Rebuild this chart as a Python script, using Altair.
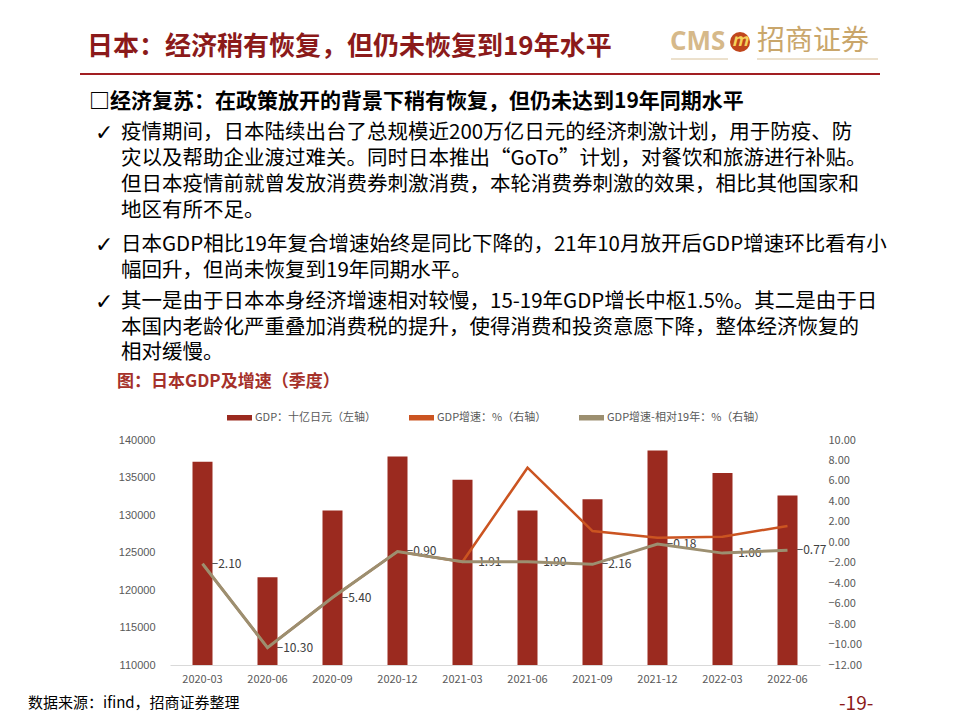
import altair as alt
import pandas as pd

# ---------------- data ----------------
quarters = ["2020-03", "2020-06", "2020-09", "2020-12", "2021-03",
            "2021-06", "2021-09", "2021-12", "2022-03", "2022-06"]
gdp_bn_yen = [137100, 121700, 130600, 137800, 134700,
              130600, 132100, 138600, 135600, 132600]
gdp_growth_pct = [-2.10, -10.30, -5.40, -0.90, -1.91,
                  7.29, 1.10, 0.45, 0.55, 1.59]
gdp_growth_vs19_pct = [-2.10, -10.30, -5.40, -0.90, -1.91,
                       -1.90, -2.16, -0.18, -1.06, -0.77]
series_names = ["GDP：十亿日元（左轴）", "GDP增速：%（右轴）", "GDP增速-相对19年：%（右轴）"]
series_colors = ["#9B2A1F", "#CB5421", "#9C8F70"]
left_ticks = [110000, 115000, 120000, 125000, 130000, 135000, 140000]
right_ticks = [-12, -10, -8, -6, -4, -2, 0, 2, 4, 6, 8, 10]

page_title = "日本：经济稍有恢复，但仍未恢复到19年水平"
section_title = "□经济复苏：在政策放开的背景下稍有恢复，但仍未达到19年同期水平"
bullet_1 = ["疫情期间，日本陆续出台了总规模近200万亿日元的经济刺激计划，用于防疫、防",
            "灾以及帮助企业渡过难关。同时日本推出“GoTo”计划，对餐饮和旅游进行补贴。",
            "但日本疫情前就曾发放消费券刺激消费，本轮消费券刺激的效果，相比其他国家和",
            "地区有所不足。"]
bullet_2 = ["日本GDP相比19年复合增速始终是同比下降的，21年10月放开后GDP增速环比看有小",
            "幅回升，但尚未恢复到19年同期水平。"]
bullet_3 = ["其一是由于日本本身经济增速相对较慢，15-19年GDP增长中枢1.5%。其二是由于日",
            "本国内老龄化严重叠加消费税的提升，使得消费和投资意愿下降，整体经济恢复的",
            "相对缓慢。"]
chart_title = "图：日本GDP及增速（季度）"
source_note = "数据来源：ifind，招商证券整理"
page_number = "-19-"
logo_en = "CMS"
logo_cn = "招商证券"
logo_mark = "m"
check_mark = "✓"

# ---------------- layout ----------------
CJK = "Noto Sans CJK SC"
OX, OY = 170, 440          # plot origin on page
W, H = 650, 225


def px(x):
    return x - OX


def py(y):
    return y - OY


df_bar = pd.DataFrame({"quarter": quarters, "gdp": gdp_bn_yen, "series": series_names[0]})
df_growth = pd.DataFrame({"quarter": quarters, "value": gdp_growth_pct, "series": series_names[1]})
df_vs19 = pd.DataFrame({"quarter": quarters, "value": gdp_growth_vs19_pct, "series": series_names[2]})

color_scale = alt.Scale(domain=series_names, range=series_colors)

x_enc = alt.X("quarter:N", sort=quarters,
              scale=alt.Scale(paddingInner=0, paddingOuter=0),
              axis=alt.Axis(title=None, labelAngle=0, ticks=False, domainColor="#D9D9D9",
                            domainWidth=1, labelColor="#595959", labelFont=CJK,
                            labelFontSize=11, labelPadding=8, grid=False))

bars = alt.Chart(df_bar).mark_bar(size=20, clip=True).encode(
    x=x_enc,
    y=alt.Y("gdp:Q", scale=alt.Scale(domain=[110000, 140000], nice=False, zero=False),
            axis=alt.Axis(title=None, values=left_ticks, format="d", domain=False, ticks=False,
                          grid=False, labelPadding=15, labelColor="#595959",
                          labelFont="Liberation Sans", labelFontSize=11)),
    color=alt.Color("series:N", scale=color_scale,
                    legend=alt.Legend(title=None, orient="none", legendX=57, legendY=-35,
                                      direction="horizontal",
                                      symbolType="M-1,-0.22H1V0.22H-1Z", symbolSize=625,
                                      symbolStrokeWidth=0, labelFont=CJK, labelFontSize=11,
                                      labelColor="#595959", columnPadding=32, labelOffset=3,
                                      padding=0)),
)

y_right = alt.Y("value:Q", scale=alt.Scale(domain=[-12, 10], nice=False, zero=False),
                axis=alt.Axis(title=None, orient="right", values=right_ticks, format=".2f",
                              domain=False, ticks=False, grid=False, labelPadding=8,
                              labelColor="#595959", labelFont=CJK, labelFontSize=11))

labels = alt.Chart(df_vs19).mark_text(align="left", baseline="middle", dx=9, fontSize=12,
                                      font=CJK, color="#404040").encode(
    x=alt.X("quarter:N", sort=quarters), y=y_right,
    text=alt.Text("value:Q", format=".2f"))

line_growth = alt.Chart(df_growth).mark_line(strokeWidth=2.5).encode(
    x=alt.X("quarter:N", sort=quarters), y=y_right,
    color=alt.Color("series:N", scale=color_scale))

line_vs19 = alt.Chart(df_vs19).mark_line(strokeWidth=3).encode(
    x=alt.X("quarter:N", sort=quarters), y=y_right,
    color=alt.Color("series:N", scale=color_scale))

right_layer = alt.layer(labels, line_growth, line_vs19)

one = pd.DataFrame({"k": [0]})


def text_layer(txt, x, y, size, color="#000000", weight="normal", font=CJK,
               align="left", line_height=None, italic=False):
    kw = dict(align=align, baseline="middle", fontSize=size, font=font, color=color,
              fontWeight=weight)
    if line_height:
        kw["lineHeight"] = line_height
    if italic:
        kw["fontStyle"] = "italic"
    return alt.Chart(one).mark_text(**kw).encode(
        x=alt.value(px(x)), y=alt.value(py(y)), text=alt.value(txt))


def rule_layer(x1, x2, y, color, width):
    return alt.Chart(one).mark_rule(color=color, strokeWidth=width).encode(
        x=alt.value(px(x1)), x2=alt.value(px(x2)), y=alt.value(py(y)))


annotations = [
    text_layer(page_title, 87, 47, 26, color="#8B1A1A", weight="bold"),
    rule_layer(80, 880, 74, "#A11E22", 2),
    text_layer(logo_en, 670, 42, 26, color="#D6B98A", weight="bold", font="Open Sans"),
    rule_layer(671, 728, 59, "#D9C29A", 1),
    alt.Chart(one).mark_point(filled=True, shape="circle", size=400, color="#C0461C",
                              opacity=1).encode(x=alt.value(px(740)), y=alt.value(py(42))),
    text_layer(logo_mark, 740, 41, 17, color="#F6D35A", weight="bold", align="center",
               italic=True),
    text_layer(logo_cn, 757, 42, 28, color="#C9A66B"),
    rule_layer(757, 878, 59, "#D9C29A", 1),
    text_layer(section_title, 89, 102, 21, weight="bold"),
    text_layer(check_mark, 95, 133, 22, font="DejaVu Sans"),
    text_layer(bullet_1, 121, 133, 20.5, line_height=26),
    text_layer(check_mark, 95, 245, 22, font="DejaVu Sans"),
    text_layer(bullet_2, 121, 245, 20.5, line_height=25.5),
    text_layer(check_mark, 95, 302, 22, font="DejaVu Sans"),
    text_layer(bullet_3, 121, 302, 20.5, line_height=25.5),
    text_layer(chart_title, 117, 382, 17, color="#A5312A", weight="bold"),
    text_layer(source_note, 28, 703, 15),
    text_layer(page_number, 839, 704, 19, color="#8B1A1A"),
]

chart = alt.layer(bars, right_layer, *annotations).resolve_scale(
    y="independent"
).properties(
    width=W, height=H,
    padding={"left": OX - 8, "top": OY - 8, "right": 944 - (OX - 8) - W, "bottom": 712 - (OY - 8) - H},
    autosize=alt.AutoSizeParams(type="none"),
    background="#FFFFFF",
).configure_view(stroke=None)

chart.save("out.html", embed_options={"renderer": "svg", "actions": False})
